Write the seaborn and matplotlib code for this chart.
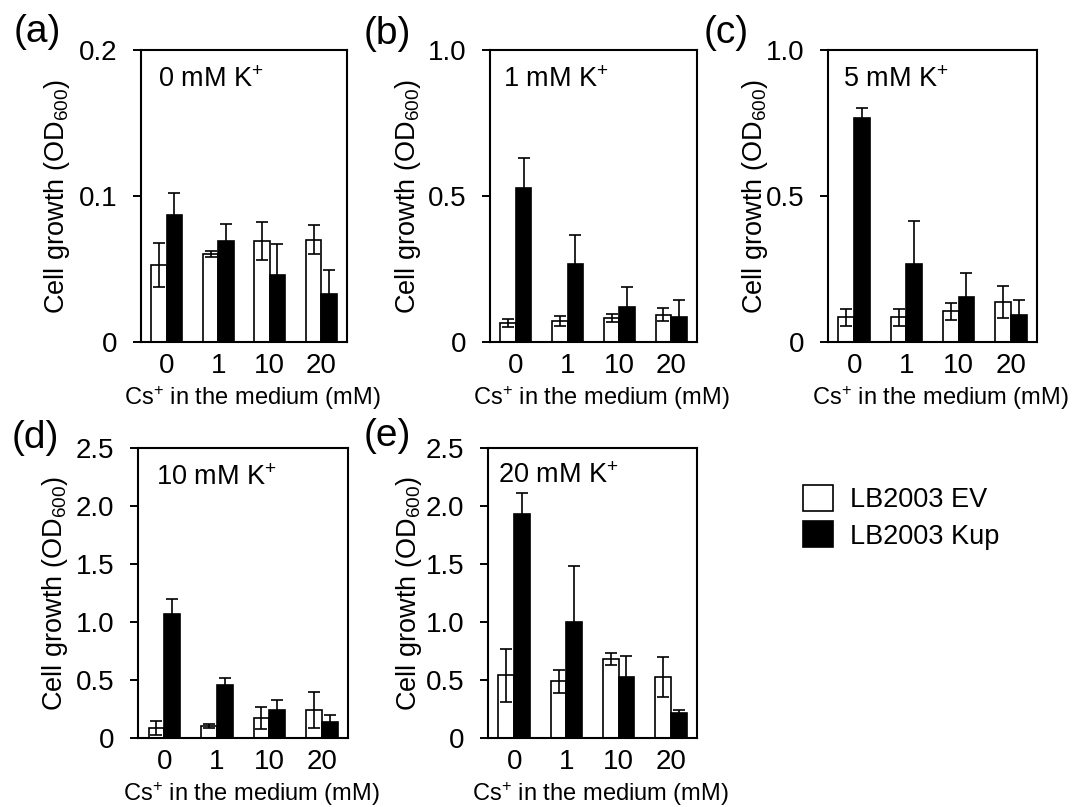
import numpy as np
import pandas as pd
import matplotlib
matplotlib.use("Agg")
import matplotlib.pyplot as plt
from matplotlib.patches import Patch
from matplotlib.container import BarContainer
import seaborn as sns

# ---------------- data ----------------
cs_levels = ["0", "1", "10", "20"]
strains = ["LB2003 EV", "LB2003 Kup"]
panel_letters = ["(a)", "(b)", "(c)", "(d)", "(e)"]
k_labels = ["0 mM K$^{+}$", "1 mM K$^{+}$", "5 mM K$^{+}$", "10 mM K$^{+}$", "20 mM K$^{+}$"]

a_ev = [0.053, 0.060, 0.069, 0.070]
a_ev_err = [0.015, 0.002, 0.013, 0.010]
a_kup = [0.087, 0.069, 0.046, 0.033]
a_kup_err = [0.015, 0.012, 0.021, 0.016]

b_ev = [0.066, 0.072, 0.082, 0.094]
b_ev_err = [0.014, 0.017, 0.015, 0.023]
b_kup = [0.527, 0.266, 0.120, 0.086]
b_kup_err = [0.103, 0.101, 0.069, 0.057]

c_ev = [0.084, 0.084, 0.105, 0.137]
c_ev_err = [0.028, 0.028, 0.030, 0.054]
c_kup = [0.767, 0.266, 0.155, 0.094]
c_kup_err = [0.035, 0.150, 0.080, 0.051]

d_ev = [0.086, 0.106, 0.172, 0.239]
d_ev_err = [0.063, 0.018, 0.095, 0.155]
d_kup = [1.069, 0.460, 0.244, 0.138]
d_kup_err = [0.132, 0.057, 0.081, 0.063]

e_ev = [0.540, 0.489, 0.681, 0.526]
e_ev_err = [0.230, 0.100, 0.052, 0.172]
e_kup = [1.931, 0.997, 0.523, 0.216]
e_kup_err = [0.181, 0.483, 0.181, 0.028]

yticks_small = [0, 0.1, 0.2]
yticklabels_small = ["0", "0.1", "0.2"]
yticks_mid = [0, 0.5, 1.0]
yticklabels_mid = ["0", "0.5", "1.0"]
yticks_big = [0, 0.5, 1.0, 1.5, 2.0, 2.5]
yticklabels_big = ["0", "0.5", "1.0", "1.5", "2.0", "2.5"]

ylabel = "Cell growth (OD$_{600}$)"
xlabel = "Cs$^{+}$ in the medium (mM)"

panels = [
    (a_ev, a_ev_err, a_kup, a_kup_err, yticks_small, yticklabels_small),
    (b_ev, b_ev_err, b_kup, b_kup_err, yticks_mid, yticklabels_mid),
    (c_ev, c_ev_err, c_kup, c_kup_err, yticks_mid, yticklabels_mid),
    (d_ev, d_ev_err, d_kup, d_kup_err, yticks_big, yticklabels_big),
    (e_ev, e_ev_err, e_kup, e_kup_err, yticks_big, yticklabels_big),
]

# ---------------- style ----------------
sns.set_style("white")
plt.rcParams["font.family"] = ["Liberation Sans", "DejaVu Sans"]
plt.rcParams["mathtext.fontset"] = "custom"
plt.rcParams["mathtext.rm"] = "Liberation Sans"
plt.rcParams["mathtext.it"] = "Liberation Sans:italic"
plt.rcParams["mathtext.bf"] = "Liberation Sans:bold"
plt.rcParams["mathtext.default"] = "regular"
plt.rcParams["text.color"] = "black"
plt.rcParams["axes.labelcolor"] = "black"
plt.rcParams["xtick.color"] = "black"
plt.rcParams["ytick.color"] = "black"

W, H = 1083, 807
fig = plt.figure(figsize=(W / 100, H / 100), dpi=100)

# axes boxes in pixels: left, right, top, bottom
boxes = [
    (141, 347, 50, 342),
    (490, 697, 50, 342),
    (828, 1037, 50, 342),
    (138, 348, 448, 738),
    (488, 697, 448, 738),
]
ylabel_x = [57, 408, 755, 55, 409]
letter_pos = [(14, 32), (364, 34), (704, 33), (12, 438), (364, 436)]
ktext_pos = [(0.083, 0.897), (0.063, 0.897), (0.072, 0.897), (0.086, 0.897), (0.048, 0.905)]

palette = {strains[0]: "white", strains[1]: "black"}

for i, (ev, ev_err, kup, kup_err, yt, ytl) in enumerate(panels):
    l, r, t, b = boxes[i]
    ax = fig.add_axes([l / W, 1 - b / H, (r - l) / W, (b - t) / H])
    df = pd.DataFrame({
        "cs": cs_levels * 2,
        "strain": [strains[0]] * 4 + [strains[1]] * 4,
        "value": list(ev) + list(kup),
    })
    sns.barplot(data=df, x="cs", y="value", hue="strain", order=cs_levels,
                hue_order=strains, palette=palette, edgecolor="black",
                linewidth=1.2, width=0.6, errorbar=None, legend=False, ax=ax)
    errs = [ev_err, kup_err]
    means = [ev, kup]
    bar_conts = [c for c in ax.containers if isinstance(c, BarContainer)]
    for j, cont in enumerate(bar_conts):
        xs = [p.get_x() + p.get_width() / 2 for p in cont.patches]
        ax.errorbar(xs, means[j], yerr=errs[j], fmt="none", ecolor="black",
                    elinewidth=1.2, capsize=4.3, capthick=1.2, zorder=5)
    ax.set_xlim(-0.5, 3.5)
    ax.set_ylim(yt[0], yt[-1])
    ax.set_yticks(yt)
    ax.set_yticklabels(ytl)
    ax.tick_params(axis="y", direction="out", length=6, width=1.4, pad=11, labelsize=20, left=True)
    ax.tick_params(axis="x", length=0, pad=8, labelsize=20)
    for s in ax.spines.values():
        s.set_visible(True)
        s.set_linewidth(1.5)
        s.set_color("black")
    ax.set_xlabel(xlabel, fontsize=17)
    ax.xaxis.label.set_va("center")
    ax.xaxis.set_label_coords(0.5 + 8 / (r - l), -56 / (b - t))
    ax.set_ylabel(ylabel, fontsize=19.5)
    ax.yaxis.label.set_va("center")
    ax.yaxis.set_label_coords((ylabel_x[i] - l) / (r - l), 0.5)
    ax.text(ktext_pos[i][0], ktext_pos[i][1], k_labels[i], transform=ax.transAxes,
            fontsize=19.5, ha="left", va="center")
    lx, ly = letter_pos[i]
    fig.text(lx / W, 1 - ly / H, panel_letters[i], fontsize=28, ha="left", va="center")

handles = [Patch(facecolor="white", edgecolor="black", linewidth=1.2),
           Patch(facecolor="black", edgecolor="black", linewidth=1.2)]
fig.legend(handles, strains, loc="upper left", bbox_to_anchor=(803 / W, 1 - 485 / H),
           frameon=False, fontsize=19.5, handlelength=1.1, handleheight=1.1,
           handletextpad=0.63, labelspacing=0.3, borderpad=0, borderaxespad=0)

fig.savefig("out.png", dpi=100)
